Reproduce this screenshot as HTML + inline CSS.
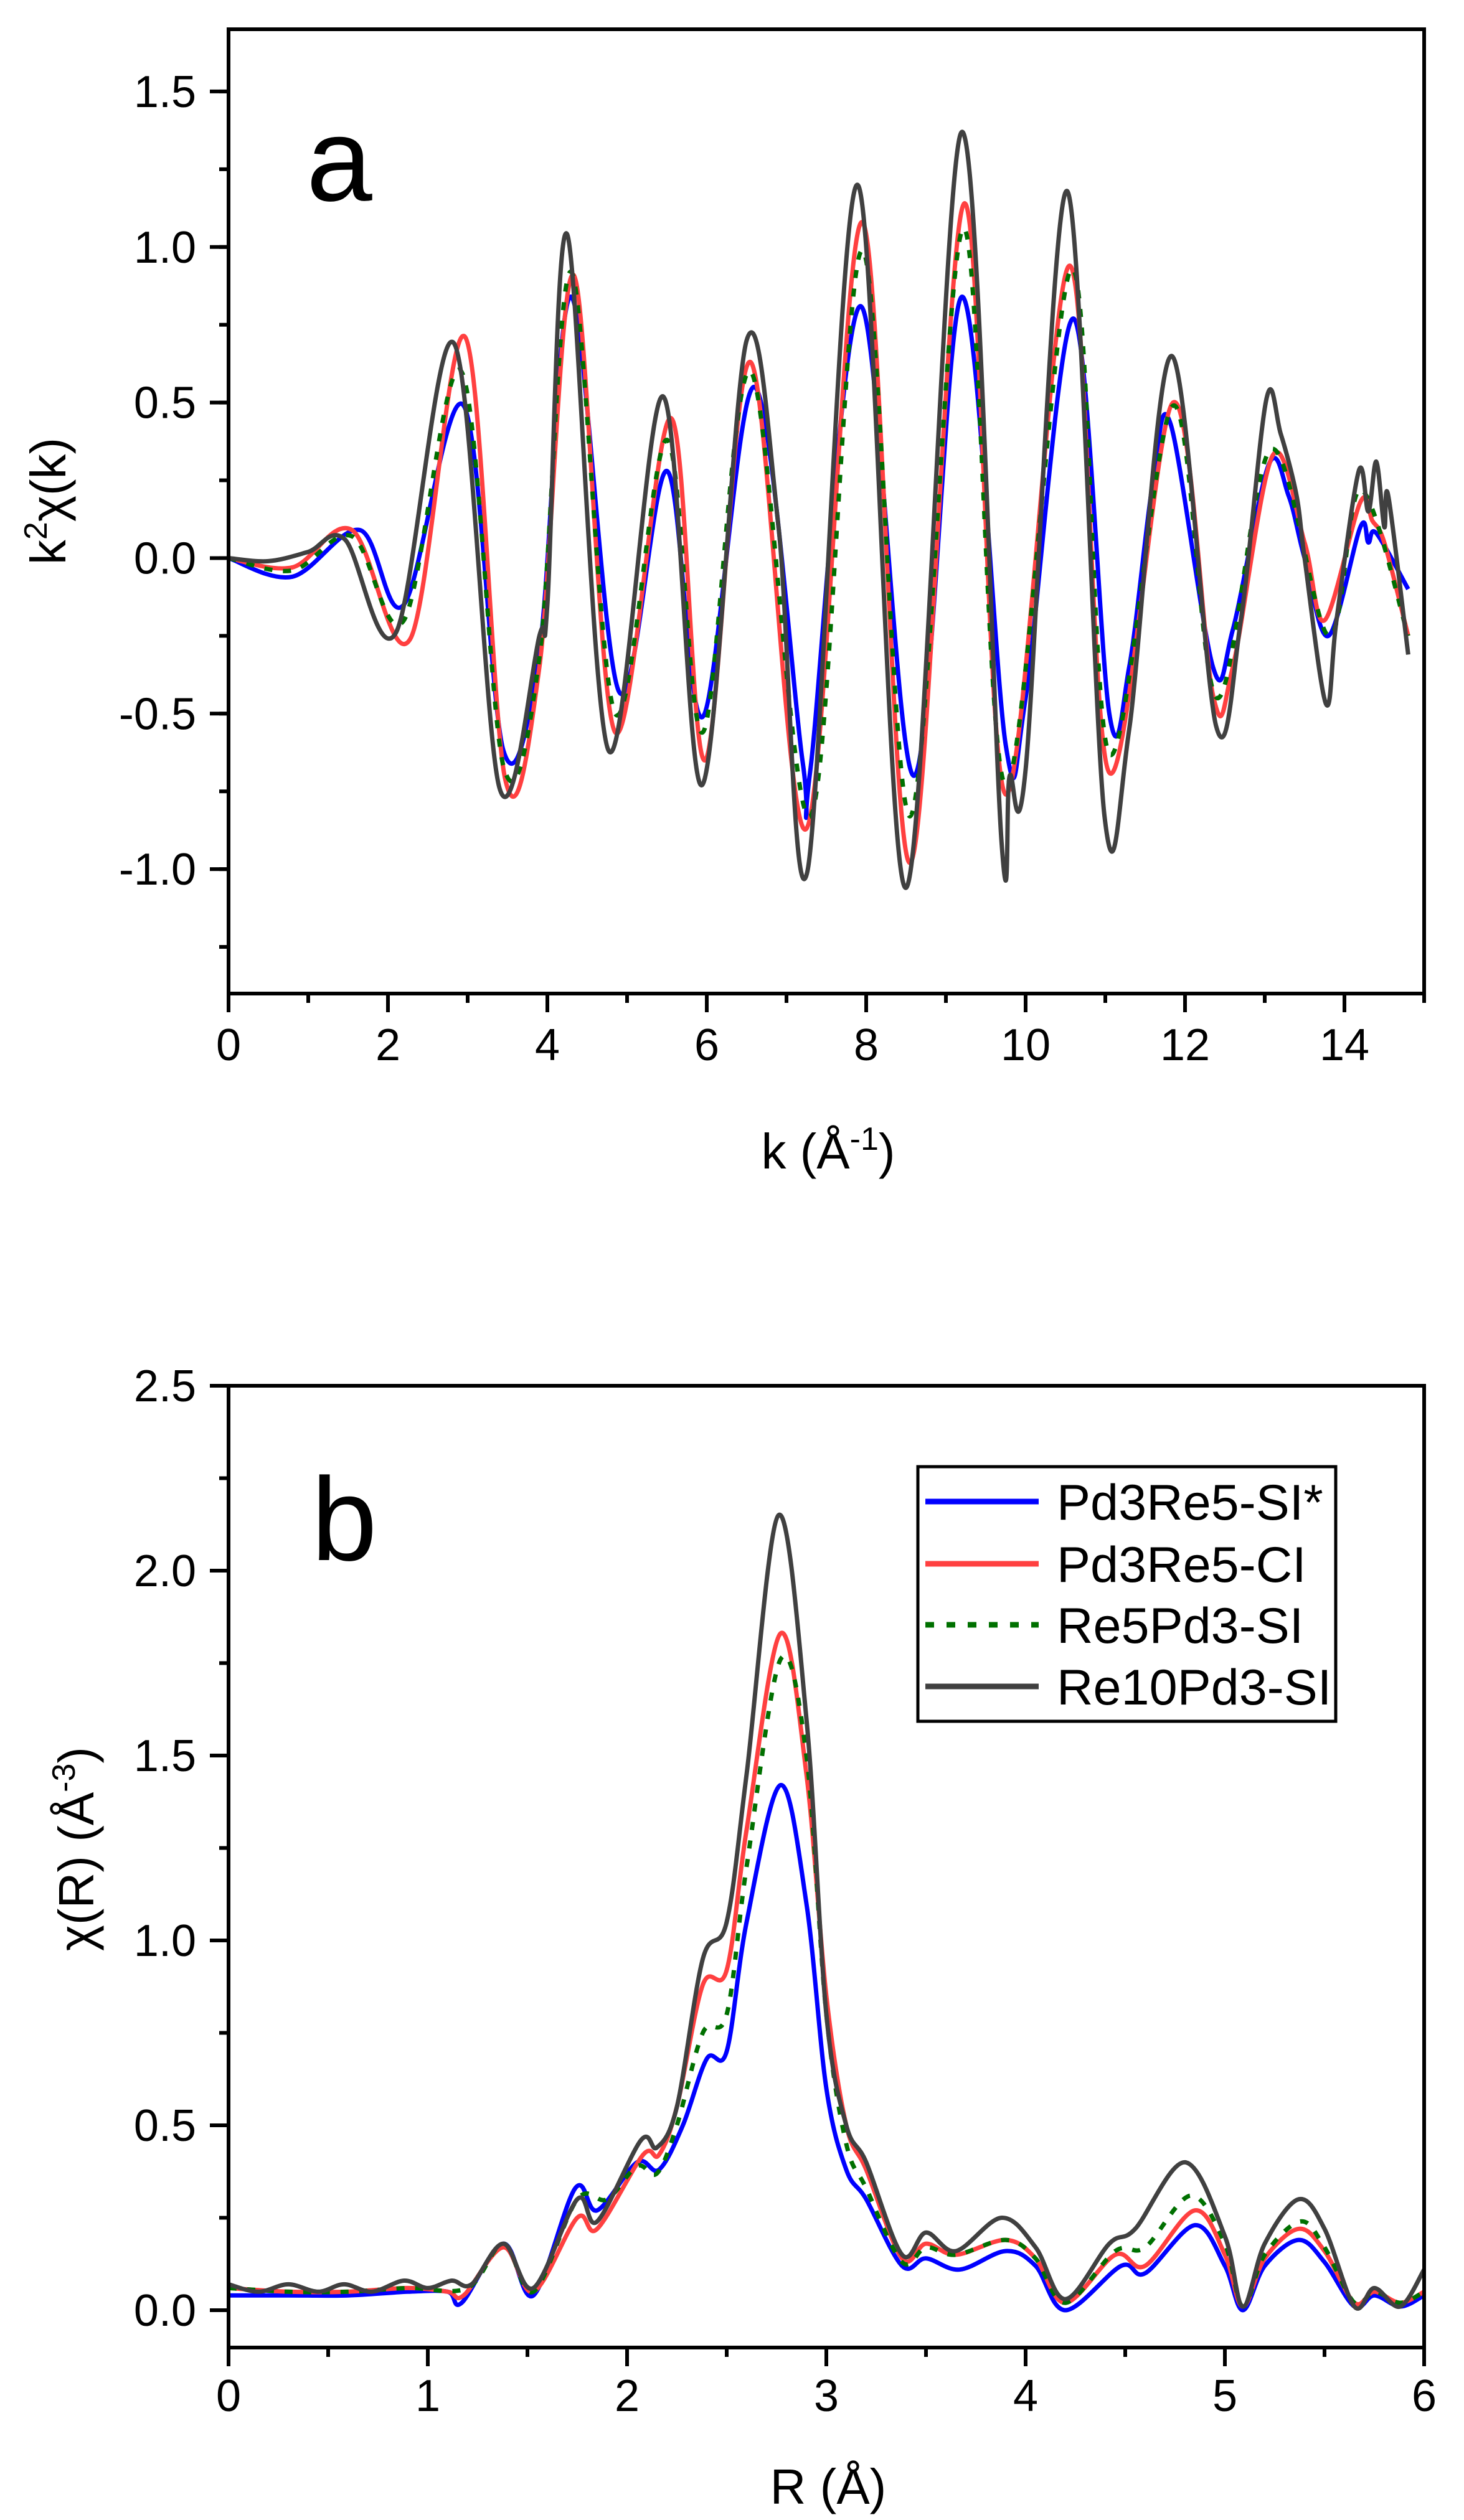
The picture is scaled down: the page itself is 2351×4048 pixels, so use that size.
<!DOCTYPE html>
<html><head><meta charset="utf-8"><style>
html,body{margin:0;padding:0;background:#fff}
svg{display:block;font-family:"Liberation Sans",Arial,sans-serif}
</style></head><body>
<svg id="fig" width="2351" height="4048" viewBox="0 0 2351 4048" xmlns="http://www.w3.org/2000/svg">
<g id="pa"></g>
<g id="pb"></g>
</svg>
<script>
// ---------- Panel a data (k, k^2 chi) ----------
const aBlueK = [0,0.8,1.65,2.2,2.95,3.45,3.9,4.3,4.9,5.5,5.95,6.6,7.2,7.3,7.93,8.6,9.2,9.75,10.0,10.6,11.05,11.3,11.6,11.82,12.35,12.6,13.05,13.3,13.5,13.8,14.2,14.3,14.4,14.8];
const aBlueY = [0,-0.06,0.09,-0.15,0.49,-0.62,-0.3,0.84,-0.43,0.28,-0.51,0.55,-0.65,-0.68,0.81,-0.70,0.84,-0.60,-0.45,0.77,-0.50,-0.35,0.25,0.43,-0.35,-0.23,0.30,0.20,0.0,-0.25,0.10,0.05,0.08,-0.10];
const aRedK = [0,0.8,1.55,2.28,2.97,3.47,3.9,4.33,4.85,5.55,5.98,6.55,7.25,7.95,8.55,9.23,9.75,10.55,11.05,11.85,12.35,12.6,13.1,13.5,13.75,14.2,14.35,14.5,14.8];
const aRedY = [0,-0.03,0.09,-0.26,0.71,-0.71,-0.35,0.91,-0.56,0.45,-0.65,0.63,-0.87,1.08,-0.98,1.14,-0.76,0.94,-0.69,0.50,-0.44,-0.35,0.33,0.05,-0.20,0.18,0.12,0.05,-0.25];
const aGreenK = [0,0.8,1.55,2.2,2.92,3.45,3.9,4.3,4.85,5.5,5.95,6.55,7.3,7.95,8.55,9.22,9.75,10.58,11.05,11.85,12.4,13.08,13.8,14.2,14.8];
const aGreenY = [0,-0.04,0.07,-0.20,0.60,-0.67,-0.32,0.92,-0.50,0.38,-0.56,0.60,-0.83,0.99,-0.83,1.06,-0.73,0.93,-0.63,0.49,-0.45,0.35,-0.25,0.22,-0.25];
const aBlackK = [0,0.5,1.0,1.46,2.1,2.83,3.4,3.9,4.0,4.25,4.77,5.45,5.94,6.5,6.9,7.26,7.89,8.5,9.2,9.7,9.8,10.0,10.52,10.99,11.3,11.83,12.39,12.7,13.02,13.2,13.4,13.5,13.77,13.9,14.18,14.3,14.4,14.5,14.55,14.8];
const aBlackY = [0,-0.01,0.02,0.06,-0.24,0.69,-0.74,-0.25,-0.15,1.04,-0.62,0.52,-0.73,0.70,0.10,-1.01,1.20,-1.06,1.37,-0.92,-0.70,-0.68,1.18,-0.83,-0.55,0.65,-0.54,-0.20,0.51,0.40,0.20,0.0,-0.47,-0.20,0.28,0.15,0.31,0.10,0.20,-0.31];
const aXTicks = ["0","2","4","6","8","10","12","14"];
const aYTicks = ["-1.0","-0.5","0.0","0.5","1.0","1.5"];

// ---------- Panel b data (R, chi(R)) ----------
const bBlueR = [0,0.3,0.6,0.9,1.1,1.17,1.38,1.53,1.74,1.85,2.05,2.16,2.28,2.4,2.5,2.6,2.77,2.9,3.0,3.1,3.2,3.38,3.5,3.67,3.9,4.05,4.2,4.48,4.6,4.85,5.0,5.09,5.2,5.37,5.5,5.65,5.75,5.88,6.0];
const bBlueY = [0.04,0.04,0.04,0.05,0.05,0.02,0.18,0.04,0.33,0.27,0.40,0.38,0.50,0.68,0.70,1.05,1.42,1.10,0.60,0.38,0.30,0.12,0.14,0.11,0.16,0.12,0.0,0.12,0.10,0.23,0.12,0.0,0.12,0.19,0.13,0.01,0.04,0.01,0.04];
const bRedR = [0,0.3,0.6,0.9,1.1,1.18,1.38,1.53,1.75,1.85,2.08,2.16,2.25,2.38,2.5,2.6,2.77,2.9,3.0,3.1,3.2,3.38,3.5,3.65,3.9,4.05,4.2,4.45,4.6,4.85,5.0,5.09,5.2,5.37,5.5,5.65,5.75,5.88,6.0];
const bRedY = [0.06,0.05,0.05,0.06,0.05,0.04,0.17,0.05,0.25,0.22,0.42,0.42,0.55,0.88,0.92,1.30,1.83,1.45,0.85,0.50,0.38,0.14,0.18,0.15,0.19,0.14,0.02,0.15,0.12,0.27,0.15,0.01,0.14,0.22,0.16,0.02,0.05,0.02,0.05];
const bGreenR = [0,0.3,0.6,0.9,1.2,1.38,1.53,1.75,1.9,2.05,2.15,2.25,2.38,2.5,2.6,2.77,2.9,3.0,3.1,3.2,3.38,3.5,3.65,3.9,4.05,4.2,4.45,4.6,4.83,5.0,5.09,5.2,5.38,5.5,5.65,5.75,5.88,6.0];
const bGreenY = [0.06,0.05,0.05,0.06,0.06,0.18,0.05,0.30,0.30,0.39,0.37,0.50,0.75,0.80,1.20,1.76,1.50,0.80,0.45,0.33,0.13,0.17,0.15,0.19,0.14,0.02,0.16,0.17,0.31,0.18,0.01,0.15,0.24,0.17,0.02,0.05,0.02,0.05];
const bBlackR = [0,0.15,0.3,0.45,0.58,0.72,0.88,1.0,1.12,1.22,1.38,1.53,1.75,1.85,2.07,2.15,2.25,2.38,2.5,2.6,2.76,2.9,3.0,3.1,3.2,3.38,3.5,3.65,3.88,4.05,4.2,4.42,4.55,4.8,5.0,5.09,5.2,5.37,5.5,5.65,5.75,5.88,6.0];
const bBlackY = [0.07,0.05,0.07,0.05,0.07,0.05,0.08,0.06,0.08,0.07,0.18,0.06,0.30,0.24,0.46,0.44,0.55,0.95,1.05,1.45,2.15,1.60,0.80,0.50,0.40,0.15,0.21,0.16,0.25,0.17,0.03,0.18,0.22,0.40,0.20,0.01,0.18,0.30,0.22,0.01,0.06,0.01,0.11];
const bXTicks = ["0","1","2","3","4","5","6"];
const bYTicks = ["0.0","0.5","1.0","1.5","2.0","2.5"];
const legendNames = ["Pd3Re5-SI*","Pd3Re5-CI","Re5Pd3-SI","Re10Pd3-SI"];

const NS = "http://www.w3.org/2000/svg";
const COL = {blue:"#0000ff", red:"#ff4040", green:"#007000", black:"#404040"};
function mk(parent, tag, attrs, text){
  const e = document.createElementNS(NS, tag);
  for (const k in attrs) e.setAttribute(k, attrs[k]);
  if (text !== undefined) e.textContent = text;
  parent.appendChild(e);
  return e;
}
function pathFrom(xs, ys, sx, sy){
  const P = xs.map((x,i)=>[sx(x), sy(ys[i])]);
  let d = "M"+P[0][0].toFixed(1)+","+P[0][1].toFixed(1);
  for (let i=0;i<P.length-1;i++){
    const p0=P[Math.max(0,i-1)], p1=P[i], p2=P[i+1], p3=P[Math.min(P.length-1,i+2)];
    const t=1/6;
    const c1=[p1[0]+(p2[0]-p0[0])*t, p1[1]+(p2[1]-p0[1])*t];
    const c2=[p2[0]-(p3[0]-p1[0])*t, p2[1]-(p3[1]-p1[1])*t];
    d += "C"+c1[0].toFixed(1)+","+c1[1].toFixed(1)+" "+c2[0].toFixed(1)+","+c2[1].toFixed(1)+" "+p2[0].toFixed(1)+","+p2[1].toFixed(1);
  }
  return d;
}

function panel(g, o){
  const sx = v => o.L + (v - o.x0)/(o.x1 - o.x0)*(o.R - o.L);
  const sy = v => o.B - (v - o.y0)/(o.y1 - o.y0)*(o.B - o.T);
  const clipId = o.id+"clip";
  const defs = mk(g,"defs",{});
  const cp = mk(defs,"clipPath",{id:clipId});
  mk(cp,"rect",{x:o.L,y:o.T,width:o.R-o.L,height:o.B-o.T});
  const sg = mk(g,"g",{"clip-path":"url(#"+clipId+")"});
  
  
  o.series.forEach(s=>{
    const p = mk(sg,"path",{d:pathFrom(s.x,s.y,sx,sy),fill:"none",stroke:s.c,"stroke-width":7,"stroke-linejoin":"round"});
    if (s.dash) p.setAttribute("stroke-dasharray","13 17");
    
    
  });
  const fr = mk(g,"rect",{x:o.L,y:o.T,width:o.R-o.L,height:o.B-o.T,fill:"none",stroke:"#000","stroke-width":6});
  
  
  const xt = mk(g,"g",{});
  
  
  for (let v=o.x0; v<=o.x1+1e-9; v+=o.xMinor){
    const X=sx(v);
    mk(xt,"line",{x1:X,y1:o.B,x2:X,y2:o.B+15,stroke:"#000","stroke-width":6});
  }
  o.xTicks.forEach(t=>{
    const X=sx(parseFloat(t));
    mk(xt,"line",{x1:X,y1:o.B,x2:X,y2:o.B+30,stroke:"#000","stroke-width":6});
    const tx = mk(xt,"text",{x:X,y:o.B+o.xLab,"font-size":72,"text-anchor":"middle"},t);
    
    
  });
  const yt = mk(g,"g",{});
  
  
  for (let v=o.yMinorStart; v<=o.y1+1e-9; v+=o.yMinor){
    const Y=sy(v);
    mk(yt,"line",{x1:o.L-15,y1:Y,x2:o.L,y2:Y,stroke:"#000","stroke-width":6});
  }
  o.yTicks.forEach(t=>{
    const Y=sy(parseFloat(t));
    mk(yt,"line",{x1:o.L-30,y1:Y,x2:o.L,y2:Y,stroke:"#000","stroke-width":6});
    const tx = mk(yt,"text",{x:o.L-52,y:Y+25,"font-size":72,"text-anchor":"end"},t);
    
    
  });
}

const pa = document.getElementById("pa");
panel(pa,{id:"panel-a",L:367,R:2287,T:47,B:1596,x0:0,x1:15,y0:-1.4,y1:1.7,xMinor:1,yMinor:0.25,yMinorStart:-1.25,xLab:107,xTicks:aXTicks,yTicks:aYTicks,
  series:[
    {name:"pd3re5-si-star-line",x:aBlueK,y:aBlueY,c:COL.blue},
    {name:"pd3re5-ci-line",x:aRedK,y:aRedY,c:COL.red},
    {name:"re5pd3-si-line",x:aGreenK,y:aGreenY,c:COL.green,dash:true},
    {name:"re10pd3-si-line",x:aBlackK,y:aBlackY,c:COL.black}]});
const pb = document.getElementById("pb");
panel(pb,{id:"panel-b",L:367,R:2287,T:2226,B:3771,x0:0,x1:6,y0:-0.101,y1:2.5,xMinor:0.5,yMinor:0.25,yMinorStart:0,xLab:102,xTicks:bXTicks,yTicks:bYTicks,
  series:[
    {name:"pd3re5-si-star-line",x:bBlueR,y:bBlueY,c:COL.blue},
    {name:"pd3re5-ci-line",x:bRedR,y:bRedY,c:COL.red},
    {name:"re5pd3-si-line",x:bGreenR,y:bGreenY,c:COL.green,dash:true},
    {name:"re10pd3-si-line",x:bBlackR,y:bBlackY,c:COL.black}]});

const lg = mk(pb,"g",{});


mk(lg,"rect",{x:1474,y:2356,width:671,height:409,fill:"#fff",stroke:"#000","stroke-width":5});
const lc=[COL.blue,COL.red,COL.green,COL.black];
const ly=[2412,2512,2610,2709];
legendNames.forEach((n,i)=>{
  const e = mk(lg,"g",{});
  
  
  const l = mk(e,"line",{x1:1486,y1:ly[i],x2:1668,y2:ly[i],stroke:lc[i],"stroke-width":9});
  if (i===2) l.setAttribute("stroke-dasharray","14 20");
  mk(e,"text",{x:1697,y:ly[i]+29,"font-size":81},n);
});
</script>
<svg width="2351" height="4048" style="position:absolute;left:0;top:0" xmlns="http://www.w3.org/2000/svg" font-family="Liberation Sans, Arial, sans-serif">
<text x="492" y="322" font-size="190">a</text>
<text x="500" y="2506" font-size="190">b</text>
<text x="1330" y="1877" font-size="80" text-anchor="middle">k (Å<tspan font-size="52" dy="-30">-1</tspan><tspan dy="30">)</tspan></text>
<text x="1330" y="4022" font-size="80" text-anchor="middle">R (Å)</text>
<text transform="translate(105,805) rotate(-90)" font-size="80" text-anchor="middle">k<tspan font-size="52" dy="-30">2</tspan><tspan dy="30">χ(k)</tspan></text>
<text transform="translate(150,2970) rotate(-90)" font-size="80" text-anchor="middle">χ(R) (Å<tspan font-size="52" dy="-30">-3</tspan><tspan dy="30">)</tspan></text>
</svg>
</body></html>
